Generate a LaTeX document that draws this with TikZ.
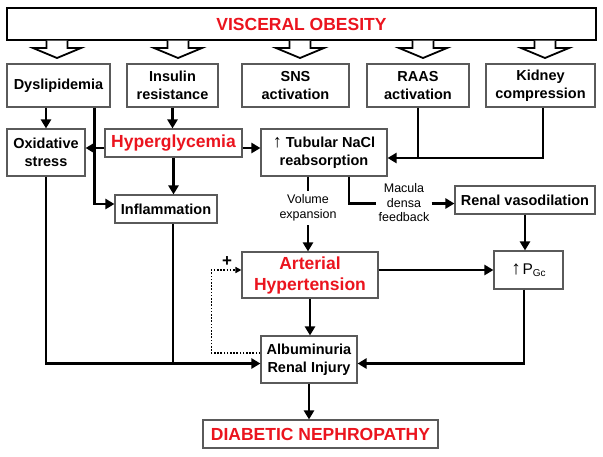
\documentclass[tikz,border=0pt]{standalone}
\usepackage{fontspec}
\setmainfont{Liberation Sans}
\usetikzlibrary{arrows.meta,calc}
\definecolor{bred}{RGB}{235,20,30}
\definecolor{bgray}{RGB}{90,90,90}
\begin{document}
\begin{tikzpicture}[x=1pt,y=-1pt,
  box/.style={draw=bgray, line width=1.1pt, fill=white, align=center, inner sep=0pt,
    font=\fontsize{14.5}{18}\selectfont\bfseries},
  redt/.style={text=bred, font=\fontsize{17.5}{21}\selectfont\bfseries},
  small/.style={align=center, inner xsep=2pt, inner ysep=3pt, font=\fontsize{12.5}{14.5}\selectfont},
  conn/.style={line width=2.8pt, -{Triangle[length=9pt,width=10pt]}},
  plain/.style={line width=2.8pt},
  dotl/.style={line width=1.6pt, dash pattern=on 1.6pt off 1.6pt, -{Triangle[length=6pt,width=6pt]}},
  hollow/.style={draw=black, line width=1.8pt, fill=white, line join=miter}
]
\useasboundingbox (0,0) rectangle (603,456);

% top box
\node[box, draw=black, line width=2.4pt, minimum width=589pt, minimum height=32pt, redt] (vo) at (301.5,24) {VISCERAL OBESITY};

% hollow arrows
\foreach \x in {57,178,300,423,545}{
  \draw[hollow] (\x-10.5,40.5) -- (\x-10.5,48) -- (\x-24,48) -- (\x,58) -- (\x+24,48) -- (\x+10.5,48) -- (\x+10.5,40.5);
}

% second row
\node[box, minimum width=103pt, minimum height=43pt] (dys) at (58.5,85.5) {Dyslipidemia};
\node[box, minimum width=91pt, minimum height=43pt] (ins) at (172.5,85.5) {Insulin\\resistance};
\node[box, minimum width=107pt, minimum height=43pt] (sns) at (295.5,85.5) {SNS\\activation};
\node[box, minimum width=102pt, minimum height=43pt] (raas) at (418,85.5) {RAAS\\activation};
\node[box, minimum width=109pt, minimum height=43pt] (kid) at (540.5,85.5) {Kidney\\compression};

% third row
\node[box, minimum width=78pt, minimum height=47pt] (ox) at (46,152.5) {Oxidative\\stress};
\node[box, minimum width=137pt, minimum height=28pt, redt] (hyp) at (173.5,143) {Hyperglycemia};
\node[box, minimum width=126pt, minimum height=47pt] (tub) at (324,152.5)
  {{\mdseries\fontsize{18}{18}\selectfont ↑} Tubular NaCl\\reabsorption};
\node[box, minimum width=102pt, minimum height=28pt] (infl) at (166,209) {Inflammation};
\node[box, minimum width=140pt, minimum height=28pt] (rv) at (525,200) {Renal vasodilation};

\node[box, minimum width=136pt, minimum height=46pt, redt] (art) at (310,275) {Arterial\\Hypertension};
\node[box, minimum width=69pt, minimum height=38pt, font=\mdseries] (pgc) at (528.5,270)
  {{\fontsize{19}{19}\selectfont ↑}\,{\fontsize{15.5}{17}\selectfont P}{\fontsize{10}{10}\selectfont\raisebox{-2.5pt}{Gc}}};
\node[box, minimum width=96pt, minimum height=47pt] (alb) at (309,359.5) {Albuminuria\\Renal Injury};
\node[box, minimum width=235pt, minimum height=28pt, redt] (dn) at (320.5,434) {DIABETIC NEPHROPATHY};

% labels
\node[small, inner ysep=4pt] (vel) at (308,208) {Volume\\expansion};
\node[small] (mdf) at (404,203) {Macula\\densa\\feedback};
\node[font=\fontsize{17}{17}\selectfont\bfseries, inner sep=0pt] (plus) at (227,262) {+};

% coordinates
\coordinate (h1) at ($(hyp.west)+(0,5)$);
\coordinate (h2) at ($(hyp.east)+(0,5)$);
\coordinate (tj) at ($(tub.east)+(0,5.5)$);
\coordinate (v1) at ($(tub.south)+(-16,0)$);
\coordinate (m1) at ($(tub.south)+(25,0)$);
\coordinate (m2) at ($(rv.west)+(0,3.5)$);
\coordinate (a1) at ($(art.east)+(0,-5)$);
\coordinate (d1) at ($(alb.west)+(0,-6.5)$);
\coordinate (p1) at ($(alb.east)+(0,4)$);
\coordinate (p2) at ($(alb.west)+(0,4)$);
\coordinate (i1) at ($(infl.south)+(7,0)$);
\coordinate (y1) at ($(dys.south)+(36,0)$);
\coordinate (f1) at ($(infl.west)+(0,-5)$);
\coordinate (k1) at ($(kid.south)+(2.5,0)$);
\coordinate (g1) at ($(pgc.south)+(-4.5,0)$);

% connectors
\draw[conn] (dys.south -| ox.north) -- (ox.north);
\draw[conn] (y1) |- (f1);
\draw[conn] (ins.south) -- (ins.south |- hyp.north);
\draw[conn] (h1) -- (h1 -| ox.east);
\draw[conn] (h2) -- (h2 -| tub.west);
\draw[conn] (hyp.south) -- (hyp.south |- infl.north);
\draw[plain] (raas.south) -- (raas.south |- tj);
\draw[conn] (k1) |- (tj);
\draw[plain] (v1) -- (v1 |- vel.north);
\draw[conn] (v1 |- vel.south) -- (v1 |- art.north);
\draw[plain] (m1) |- (mdf.west |- m2);
\draw[conn] (mdf.east |- m2) -- (m2);
\draw[conn] (a1) -- (a1 -| pgc.west);
\draw[conn] (rv.south) -- (rv.south |- pgc.north);
\draw[conn] (art.south) -- (art.south |- alb.north);
\draw[dotl] (d1) -- ++(-49,0) |- (a1 -| art.west);
\draw[conn] (g1) |- (p1);
\draw[conn] (ox.south) |- (p2);
\draw[plain] (i1) -- (i1 |- p2);
\draw[conn] (alb.south) -- (alb.south |- dn.north);
\end{tikzpicture}
\end{document}
